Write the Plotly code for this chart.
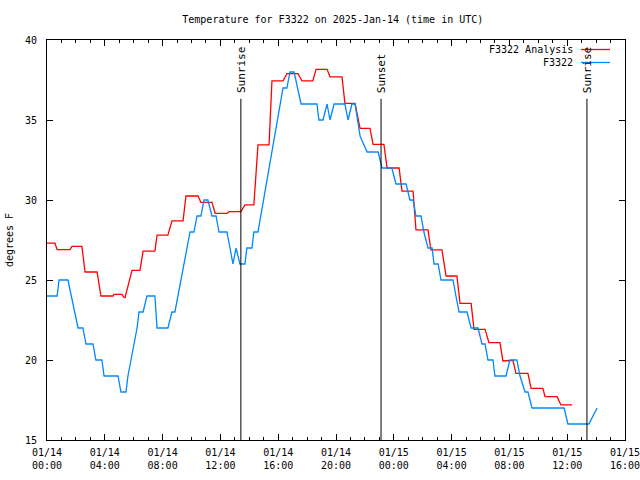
import pandas as pd
import plotly.graph_objects as go

D1 = "2025-01-14 "
D2 = "2025-01-15 "

# Analysis series (red)
ana_times = [D1 + t for t in [
    "00:00", "00:33", "00:42", "01:35", "01:44", "02:25", "02:38", "03:28", "03:44", "04:34",
    "04:38", "05:11", "05:20", "05:24", "05:53", "06:26", "06:39", "07:28", "07:37", "08:22",
    "08:39", "09:25", "09:37", "10:27", "10:39", "11:25", "11:38", "12:27", "12:36", "13:25",
    "13:42", "14:19", "14:36", "15:22", "15:34", "16:20", "16:36", "17:22", "17:39", "18:24",
    "18:37", "19:23", "19:35", "20:25", "20:37", "21:19", "21:40", "22:21", "22:34", "23:19",
    "23:32"]] + [D2 + t for t in [
    "00:22", "00:34", "01:20", "01:32", "02:22", "02:34", "03:20", "03:37", "04:22", "04:35",
    "05:21", "05:33", "06:19", "06:35", "07:21", "07:33", "07:54", "08:15", "08:27", "09:17",
    "09:30", "10:19", "10:28", "11:18", "11:34", "12:20"]]
ana_vals = [
    27.3, 27.3, 26.9, 26.9, 27.1, 27.1, 25.5, 25.5, 24.0, 24.0,
    24.1, 24.1, 23.9, 23.9, 25.6, 25.6, 26.8, 26.8, 27.8, 27.8,
    28.7, 28.7, 30.25, 30.25, 29.85, 29.85, 29.17, 29.17, 29.27, 29.27,
    29.69, 29.69, 33.44, 33.44, 37.44, 37.44, 37.9, 37.9, 37.44, 37.44,
    38.17, 38.17, 37.7, 37.7, 36.04, 36.04, 34.48, 34.48, 33.48, 33.48,
    32.0,
    32.0, 30.56, 30.56, 28.13, 28.13, 26.88, 26.88, 25.25, 25.25, 23.54,
    23.54, 21.92, 21.92, 21.08, 21.08, 19.94, 19.98, 19.98, 19.17, 19.17,
    18.23, 18.23, 17.71, 17.71, 17.19, 17.19]

# Observed series (blue)
obs_times = [D1 + t for t in [
    "00:00", "00:42", "00:50", "01:27", "02:09", "02:29", "02:42", "03:11", "03:23", "03:48",
    "03:57", "04:55", "05:07", "05:28", "05:36", "06:14", "06:22", "06:39", "06:55", "07:28",
    "07:37", "08:22", "08:39", "08:51", "09:54", "10:10", "10:23", "10:39", "10:52", "11:08",
    "11:25", "11:42", "11:54", "12:27", "12:40", "12:52", "13:05", "13:21", "13:42", "13:50",
    "14:11", "14:19", "14:36", "16:20", "16:36", "16:49", "17:06", "17:35", "18:41", "18:49",
    "19:06", "19:23", "19:35", "19:52", "20:37", "20:50", "21:06", "21:19", "21:40", "22:09",
    "22:55", "23:11", "23:52"]] + [D2 + t for t in [
    "00:09", "00:51", "01:07", "01:20", "01:32", "01:53", "02:05", "02:22", "02:39", "02:47",
    "03:04", "03:16", "04:06", "04:18", "04:31", "05:04", "05:21", "05:50", "06:06", "06:19",
    "06:31", "06:52", "07:00", "07:46", "08:02", "08:31", "08:44", "09:05", "09:17", "09:34",
    "11:47", "12:03", "13:30", "14:04"]]
obs_vals = [
    24, 24, 25, 25, 22, 22, 21, 21, 20, 20,
    19, 19, 18, 18, 19, 22, 23, 23, 24, 24,
    22, 22, 23, 23, 28, 28, 29, 29, 30, 30,
    29, 29, 28, 28, 27, 26, 27, 26, 26, 27,
    27, 28, 28, 37, 37, 38, 38, 36, 36, 35,
    35, 36, 35, 36, 36, 35, 36, 36, 34, 33,
    33, 32, 32,
    31, 31, 30, 30, 29, 29, 28, 27, 27, 26,
    26, 25, 25, 24, 23, 23, 22, 22, 21, 21,
    20, 20, 19, 19, 20, 20, 19, 18, 18, 17,
    17, 16, 16, 17]

event_times = ["2025-01-14 13:25", "2025-01-14 23:07", "2025-01-15 13:22"]
event_labels = ["Sunrise", "Sunset", "Sunrise"]

tick_times = ["2025-01-14 00:00", "2025-01-14 04:00", "2025-01-14 08:00", "2025-01-14 12:00",
              "2025-01-14 16:00", "2025-01-14 20:00", "2025-01-15 00:00", "2025-01-15 04:00",
              "2025-01-15 08:00", "2025-01-15 12:00", "2025-01-15 16:00"]
tick_labels = ["01/14<br>00:00", "01/14<br>04:00", "01/14<br>08:00", "01/14<br>12:00",
               "01/14<br>16:00", "01/14<br>20:00", "01/15<br>00:00", "01/15<br>04:00",
               "01/15<br>08:00", "01/15<br>12:00", "01/15<br>16:00"]

series_names = ["F3322 Analysis", "F3322"]
series_colors = ["#ff0000", "#0088ff"]

FONT = "DejaVu Sans Mono"

fig = go.Figure()
fig.add_trace(go.Scatter(x=pd.to_datetime(ana_times), y=ana_vals, mode="lines",
                         line=dict(color=series_colors[0], width=1.3),
                         name=series_names[0], showlegend=False))
fig.add_trace(go.Scatter(x=pd.to_datetime(obs_times), y=obs_vals, mode="lines",
                         line=dict(color=series_colors[1], width=1.3),
                         name=series_names[1], showlegend=False))

for t, lab in zip(event_times, event_labels):
    fig.add_shape(type="line", xref="x", yref="y domain", x0=t, x1=t, y0=0, y1=0.853,
                  line=dict(color="black", width=1))
    fig.add_annotation(x=t, xref="x", yref="y domain", y=0.862, text=lab, textangle=-90,
                       showarrow=False, xanchor="center", yanchor="bottom",
                       font=dict(family=FONT, size=11, color="black"))

# manual gnuplot-style key (text left of sample)
for i, (nm, col) in enumerate(zip(series_names, series_colors)):
    ypx = 49.5 + 13 * i
    yp = (440 - ypx) / 400
    fig.add_annotation(x=(575 - 47) / 578, y=yp, xref="paper", yref="paper", text=nm,
                       showarrow=False, xanchor="right", yanchor="middle",
                       font=dict(family=FONT, size=10, color="black"))
    fig.add_shape(type="line", xref="paper", yref="paper", x0=(581 - 47) / 578,
                  x1=(610 - 47) / 578, y0=yp, y1=yp, line=dict(color=col, width=1.3))

minor_vals = pd.date_range("2025-01-14 00:00", "2025-01-15 16:00", freq="1h")

fig.update_layout(
    width=640, height=480,
    margin=dict(l=47, r=15, t=40, b=40),
    paper_bgcolor="white", plot_bgcolor="white",
    font=dict(family=FONT, size=10, color="black"),
    title=dict(text="Temperature for F3322 on 2025-Jan-14 (time in UTC)", x=0.52,
               xanchor="center", y=1 - 19 / 480, yanchor="middle", automargin=False,
               font=dict(family=FONT, size=10, color="black")),
    xaxis=dict(type="date", range=["2025-01-14 00:00", "2025-01-15 16:00"],
               tickmode="array", tickvals=pd.to_datetime(tick_times), ticktext=tick_labels,
               ticks="inside", ticklen=6, tickcolor="black", showline=True, linecolor="black",
               linewidth=1, mirror="allticks", showgrid=False, zeroline=False,
               automargin=False, ticklabelstandoff=3, ticklabeloverflow="allow",
               minor=dict(tickmode="array", tickvals=minor_vals, ticks="inside", ticklen=3,
                          tickcolor="black", showgrid=False),
               tickfont=dict(family=FONT, size=10, color="black")),
    yaxis=dict(range=[15, 40], tickmode="linear", tick0=15, dtick=5,
               ticks="inside", ticklen=6, tickcolor="black", showline=True, linecolor="black",
               linewidth=1, mirror="allticks", showgrid=False, zeroline=False,
               automargin=False, ticklabelstandoff=7,
               title=dict(text="degrees F", standoff=9,
                          font=dict(family=FONT, size=10, color="black")),
               tickfont=dict(family=FONT, size=10, color="black")),
)

fig.write_html("out.html", config={"displayModeBar": False},
               post_script="document.body.style.margin='0';")
